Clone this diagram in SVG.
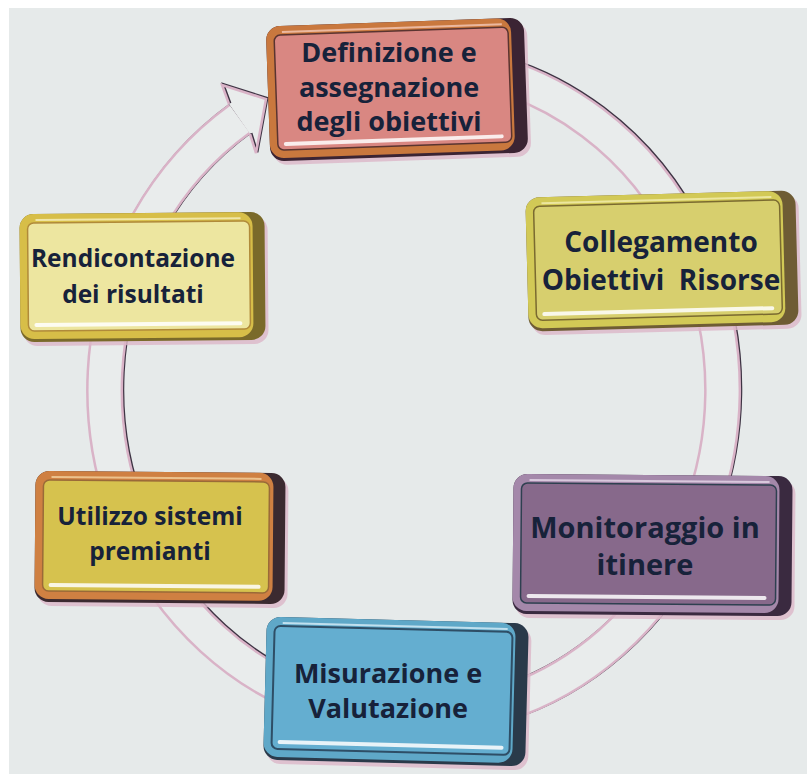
<svg xmlns="http://www.w3.org/2000/svg" width="807" height="774" viewBox="0 0 807 774">
<style>
.txt{font-family:"Open Sans","DejaVu Sans",sans-serif;font-weight:700;fill:#17223a;text-anchor:middle}
.shadow{fill:#dcb6c8;opacity:.8}
.hl{fill:#ffffff;opacity:.85}
.ringDark{fill:none;stroke:#3e3444;stroke-width:37}
.ringEdge{fill:none;stroke:#d9b3c7;stroke-width:37}
.ringFill{fill:none;stroke:#e9ecec;stroke-width:32}
</style>
<rect x="0" y="0" width="807" height="774" fill="#ffffff"/>
<rect x="9" y="8" width="798" height="766" fill="#e6eaea"/>

<g id="connectors">
  <path class="ringDark" transform="translate(1.2,-0.8)" d="M 470 67.5 A 309 328 0 1 1 239.5 119"/>
  <path class="ringEdge" d="M 470 67.5 A 309 328 0 1 1 239.5 119"/>
  <path class="ringFill" d="M 470 67.5 A 309 328 0 1 1 239.5 119"/>
  <polygon points="229,104 222,85 266,99 256,153 250,134 239.5,119" fill="#e9ecec"/>
  <path d="M229,104 L222,85 L266,99 L256,153 L250,134" fill="none" stroke="#3e3444" stroke-width="2.5" transform="translate(1.2,-0.8)"/>
  <path d="M229,104 L222,85 L266,99 L256,153 L250,134" fill="none" stroke="#d9b3c7" stroke-width="2.5"/>
</g>

<g id="node-definizione">
  <g transform="translate(268,22) rotate(-2 129 67)">
    <rect class="shadow" x="3" y="4" width="258" height="135" rx="14"/>
    <rect x="0" y="0" width="258" height="135" rx="14" fill="#3b2433"/>
    <rect x="0" y="0" width="245" height="132" rx="14" fill="#c9783e"/>
    <rect x="8" y="9" width="234" height="115" rx="6" fill="#d98782" stroke="#5a3430" stroke-width="1.5"/>
    <rect x="16" y="5" width="220" height="2" fill="#f4c8b8" opacity=".8"/>
    <rect class="hl" x="14" y="116" width="220" height="4" rx="2"/>
  </g>
  <text class="txt" x="389" y="62" font-size="27">Definizione e</text>
  <text class="txt" x="389" y="97" font-size="27">assegnazione</text>
  <text class="txt" x="389" y="131" font-size="27">degli obiettivi</text>
</g>

<g id="node-collegamento">
  <g transform="translate(527,194) rotate(-1.5 135 67)">
    <rect class="shadow" x="3" y="4" width="270" height="134" rx="14"/>
    <rect x="0" y="0" width="270" height="134" rx="14" fill="#6e5c34"/>
    <rect x="0" y="0" width="257" height="131" rx="14" fill="#d2c956"/>
    <rect x="8" y="9" width="246" height="114" rx="6" fill="#d7cf6e" stroke="#7a6a30" stroke-width="1.5"/>
    <rect x="16" y="5" width="230" height="2" fill="#f2eeb0" opacity=".8"/>
    <rect class="hl" x="14" y="115" width="232" height="4" rx="2"/>
  </g>
  <text class="txt" x="661" y="252" font-size="28">Collegamento</text>
  <text class="txt" x="661" y="290" font-size="28" style="white-space:pre">Obiettivi  Risorse</text>
</g>

<g id="node-rendicontazione">
  <g transform="translate(20,213) rotate(-0.5 122 64)">
    <rect class="shadow" x="3" y="4" width="245" height="128" rx="14"/>
    <rect x="0" y="0" width="245" height="128" rx="14" fill="#7a6a2a"/>
    <rect x="0" y="0" width="233" height="125" rx="14" fill="#d7be48"/>
    <rect x="8" y="9" width="222" height="108" rx="6" fill="#ede6a0" stroke="#b08a3a" stroke-width="1.5"/>
    <rect x="16" y="5" width="205" height="2" fill="#f6f0c0" opacity=".8"/>
    <rect class="hl" x="14" y="109" width="208" height="4" rx="2"/>
  </g>
  <text class="txt" x="133" y="267" font-size="24.5">Rendicontazione</text>
  <text class="txt" x="133" y="303" font-size="24.5">dei risultati</text>
</g>

<g id="node-utilizzo">
  <g transform="translate(35,472) rotate(0.5 125 65)">
    <rect class="shadow" x="3" y="4" width="250" height="131" rx="14"/>
    <rect x="0" y="0" width="250" height="131" rx="14" fill="#3b2a30"/>
    <rect x="0" y="0" width="238" height="128" rx="14" fill="#cf8042"/>
    <rect x="8" y="9" width="226" height="111" rx="6" fill="#d6c24e" stroke="#9a6a38" stroke-width="1.5"/>
    <rect x="16" y="5" width="210" height="2" fill="#f2d2a0" opacity=".8"/>
    <rect class="hl" x="14" y="112" width="212" height="4" rx="2"/>
  </g>
  <text class="txt" x="150" y="525" font-size="24.5">Utilizzo sistemi</text>
  <text class="txt" x="150" y="560" font-size="24.5">premianti</text>
</g>

<g id="node-monitoraggio">
  <g transform="translate(513,475) rotate(0.5 139 70)">
    <rect class="shadow" x="3" y="4" width="279" height="140" rx="14"/>
    <rect x="0" y="0" width="279" height="140" rx="14" fill="#3a2a40"/>
    <rect x="0" y="0" width="266" height="137" rx="14" fill="#a488aa"/>
    <rect x="8" y="9" width="255" height="120" rx="6" fill="#87698b" stroke="#2e4050" stroke-width="1.5"/>
    <rect x="16" y="5" width="240" height="2" fill="#e6d8ea" opacity=".8"/>
    <rect class="hl" x="14" y="120" width="240" height="4" rx="2"/>
  </g>
  <text class="txt" x="645" y="538" font-size="29">Monitoraggio in</text>
  <text class="txt" x="645" y="575" font-size="29">itinere</text>
</g>

<g id="node-misurazione">
  <g transform="translate(265,620) rotate(1.5 131 71)">
    <rect class="shadow" x="3" y="4" width="262" height="143" rx="14"/>
    <rect x="0" y="0" width="262" height="143" rx="14" fill="#2a3a4a"/>
    <rect x="0" y="0" width="249" height="140" rx="14" fill="#5fa8c8"/>
    <rect x="8" y="9" width="238" height="123" rx="6" fill="#64aed0" stroke="#2e4e66" stroke-width="2"/>
    <rect x="16" y="5" width="225" height="2" fill="#d8eef8" opacity=".8"/>
    <rect class="hl" x="14" y="123" width="226" height="4" rx="2"/>
  </g>
  <text class="txt" x="388" y="683" font-size="27">Misurazione e</text>
  <text class="txt" x="388" y="718" font-size="27">Valutazione</text>
</g>
</svg>
